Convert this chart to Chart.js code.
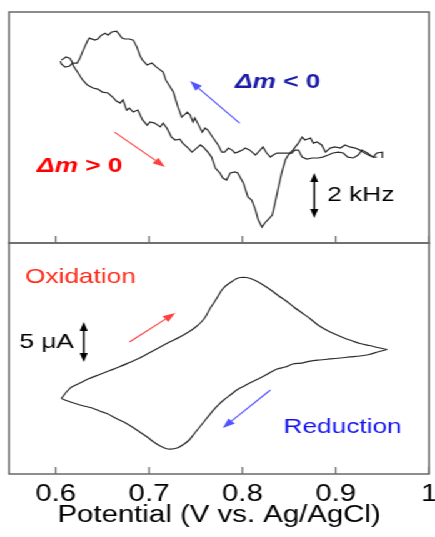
<!DOCTYPE html>
<html>
<head>
<meta charset="utf-8">
<script src="https://cdn.jsdelivr.net/npm/chart.js@4/dist/chart.umd.min.js"></script>
<style>
  html, body { margin: 0; padding: 0; background: #fff; overflow: hidden; }
  #page { position: relative; width: 435px; height: 537px; overflow: hidden; }
  /* the figure is drawn narrow and widened as a whole */
  #wide { position: absolute; left: 0; top: 0; width: 360px; height: 537px;
          transform: scaleX(1.25); transform-origin: 0 0; }
  #eqcm { position: absolute; left: 0; top: 0; width: 360px; height: 244px; }
  #cv { position: absolute; left: 0; top: 242px; width: 360px; height: 295px; }
</style>
</head>
<body>
<div id="page">
  <div id="wide">
    <canvas id="eqcm" width="360" height="244"></canvas>
    <canvas id="cv" width="360" height="295"></canvas>
  </div>
</div>
<script>
// potential axis (V vs. Ag/AgCl)
const potentialTicks = [0.6, 0.7, 0.8, 0.9, 1.0];
const potentialTickLabels = ['0.6', '0.7', '0.8', '0.9', '1'];

// quartz crystal frequency (kHz, offset) - anodic sweep
const eqcmAnodicV = [
  0.606,0.611,0.615,0.617,0.619,0.624,0.629,0.634,0.640,0.645,
  0.650,0.656,0.661,0.665,0.669,0.672,0.676,0.679,0.683,0.688,
  0.693,0.698,0.701,0.706,0.712,0.715,0.719,0.724,0.728,0.733,
  0.736,0.742,0.746,0.751,0.755,0.758,0.763,0.767,0.771,0.776,
  0.779,0.783,0.787,0.792,0.795,0.801,0.806,0.810,0.814,0.817,
  0.821,0.824,0.827,0.832,0.835,0.838,0.842,0.846,0.849,0.854,
  0.860,0.864,0.867,0.873,0.876,0.880,0.885,0.889,0.894,0.899,
  0.905,0.910,0.915,0.921,0.926,0.929,0.935,0.940,0.944,0.950,
  0.950];
const eqcmAnodicF = [
  8.13,8.27,8.22,8.09,7.87,7.56,7.24,7.02,6.89,6.84,
  6.71,6.67,6.49,6.31,6.22,6.36,5.91,6.00,5.82,5.91,
  5.47,5.24,5.38,5.33,5.16,5.33,5.11,4.71,4.58,4.62,
  4.44,4.22,4.04,4.22,4.36,4.27,4.04,3.82,3.33,3.11,
  2.89,2.80,3.11,3.16,3.11,2.67,2.04,1.91,1.47,1.02,
  0.71,0.89,1.02,1.24,1.78,2.36,3.11,3.69,3.91,4.13,
  4.44,4.71,4.58,4.67,4.44,4.49,4.36,4.04,4.22,4.27,
  4.22,4.36,4.27,4.22,4.13,4.04,3.91,3.82,4.00,4.04,
  3.78];

// quartz crystal frequency - cathodic sweep back
const eqcmCathodicV = [
  0.944,0.940,0.934,0.928,0.924,0.919,0.913,0.908,0.903,0.897,
  0.892,0.886,0.881,0.875,0.869,0.864,0.860,0.856,0.853,0.848,
  0.842,0.837,0.833,0.830,0.826,0.822,0.819,0.814,0.808,0.803,
  0.800,0.795,0.792,0.789,0.785,0.781,0.778,0.774,0.768,0.763,
  0.760,0.757,0.752,0.749,0.747,0.744,0.741,0.735,0.731,0.726,
  0.722,0.718,0.715,0.708,0.703,0.698,0.693,0.690,0.687,0.683,
  0.679,0.674,0.671,0.667,0.665,0.660,0.656,0.653,0.649,0.645,
  0.642,0.636,0.634,0.629,0.626,0.623,0.618,0.615,0.610,0.606,
  0.605];
const eqcmCathodicF = [
  3.82,3.82,4.00,4.13,3.91,3.78,3.82,4.00,4.04,4.00,
  3.91,3.82,3.78,3.78,3.73,3.82,4.13,4.13,4.00,4.00,
  4.00,4.00,3.91,3.82,4.00,4.27,4.13,3.91,4.13,4.22,
  4.13,4.04,4.00,4.13,4.22,4.04,4.04,4.36,4.71,5.02,
  5.11,4.93,5.33,5.56,5.38,5.69,5.82,5.60,6.04,6.71,
  6.98,7.24,7.60,7.82,8.00,7.91,8.13,8.36,8.71,9.02,
  9.07,9.07,9.11,9.33,9.42,9.38,9.24,9.33,9.24,9.07,
  9.02,9.11,8.98,8.53,8.22,8.00,8.00,7.87,7.82,7.96,
  8.09];

// cyclic voltammogram current (uA) - oxidation sweep
const cvAnodicV = [
  0.606,0.612,0.617,0.626,0.636,0.647,0.658,0.669,0.679,0.690,
  0.701,0.712,0.722,0.733,0.744,0.750,0.756,0.761,0.765,0.770,
  0.774,0.778,0.782,0.788,0.793,0.798,0.804,0.810,0.817,0.824,
  0.832,0.839,0.847,0.855,0.864,0.873,0.881,0.890,0.899,0.909,
  0.918,0.926,0.936,0.945,0.955];
const cvAnodicI = [
  -4.81,-3.94,-3.38,-2.88,-2.31,-1.81,-1.31,-0.81,-0.31,0.25,
  0.94,1.63,2.25,2.88,3.63,4.13,4.75,5.50,6.38,7.25,
  8.00,8.75,9.25,9.75,10.13,10.31,10.31,10.13,9.75,9.25,
  8.63,8.00,7.38,6.63,5.88,5.13,4.38,3.75,3.25,2.75,
  2.38,2.06,1.81,1.56,1.31];

// cyclic voltammogram current - reduction sweep
const cvCathodicV = [
  0.955,0.945,0.936,0.926,0.915,0.905,0.894,0.883,0.873,0.863,
  0.854,0.846,0.837,0.827,0.819,0.810,0.802,0.794,0.787,0.780,
  0.774,0.768,0.762,0.756,0.749,0.743,0.736,0.730,0.723,0.718,
  0.712,0.705,0.698,0.690,0.682,0.673,0.664,0.656,0.647,0.639,
  0.630,0.621,0.613,0.606];
const cvCathodicI = [
  1.31,1.00,0.69,0.50,0.38,0.25,0.13,0.00,-0.13,-0.38,
  -0.50,-0.88,-1.13,-1.75,-2.25,-2.75,-3.25,-3.75,-4.38,-5.00,
  -5.63,-6.38,-7.25,-8.13,-9.13,-10.00,-10.63,-11.00,-11.13,-11.06,
  -10.75,-10.25,-9.63,-9.00,-8.38,-7.75,-7.25,-6.75,-6.38,-6.00,
  -5.75,-5.44,-5.13,-4.81];

const FONT = "'Liberation Sans', Arial, sans-serif";
const pts = (xs, ys) => xs.map((v, i) => ({ x: v, y: ys[i] }));

// box around the plot area plus inward tick marks on the bottom edge
const framePlugin = {
  id: 'frame',
  afterDraw(chart) {
    const { ctx, chartArea: a } = chart;
    const x = chart.scales.x;
    ctx.save();
    ctx.strokeStyle = '#686868';
    ctx.lineWidth = 1.5;
    ctx.strokeRect(a.left, a.top, a.right - a.left, a.bottom - a.top);
    ctx.lineWidth = 1.2;
    potentialTicks.forEach(v => {
      const px = x.getPixelForValue(v);
      ctx.beginPath();
      ctx.moveTo(px, a.bottom);
      ctx.lineTo(px, a.bottom - 7);
      ctx.stroke();
    });
    ctx.restore();
  }
};

function drawArrow(ctx, x0, y0, x1, y1, color) {
  const ang = Math.atan2(y1 - y0, x1 - x0);
  const head = 10, half = 3.6;
  const bx = x1 - head * Math.cos(ang), by = y1 - head * Math.sin(ang);
  ctx.strokeStyle = color;
  ctx.fillStyle = color;
  ctx.lineWidth = 1.1;
  ctx.beginPath(); ctx.moveTo(x0, y0); ctx.lineTo(bx, by); ctx.stroke();
  ctx.beginPath();
  ctx.moveTo(x1, y1);
  ctx.lineTo(bx + half * Math.sin(ang), by - half * Math.cos(ang));
  ctx.lineTo(bx - half * Math.sin(ang), by + half * Math.cos(ang));
  ctx.closePath();
  ctx.fill();
}

function drawScaleBar(ctx, x, yTop, yBot) {
  const head = 9, half = 3.2;
  ctx.strokeStyle = '#000';
  ctx.fillStyle = '#000';
  ctx.lineWidth = 1.4;
  ctx.beginPath(); ctx.moveTo(x, yTop + head - 1); ctx.lineTo(x, yBot - head + 1); ctx.stroke();
  ctx.beginPath(); ctx.moveTo(x, yTop); ctx.lineTo(x - half, yTop + head); ctx.lineTo(x + half, yTop + head); ctx.closePath(); ctx.fill();
  ctx.beginPath(); ctx.moveTo(x, yBot); ctx.lineTo(x - half, yBot - head); ctx.lineTo(x + half, yBot - head); ctx.closePath(); ctx.fill();
}

function drawLabel(ctx, x, y, parts, color) {
  ctx.fillStyle = color;
  ctx.textAlign = 'left';
  ctx.textBaseline = 'middle';
  let cx = x;
  parts.forEach(([txt, font]) => {
    ctx.font = font;
    ctx.fillText(txt, cx, y);
    cx += ctx.measureText(txt).width;
  });
}

// annotations placed in data units of each panel
function notesPlugin(notes) {
  return {
    id: 'notes',
    afterDraw(chart) {
      const { ctx } = chart;
      const X = v => chart.scales.x.getPixelForValue(v);
      const Y = v => chart.scales.y.getPixelForValue(v);
      ctx.save();
      notes.forEach(n => {
        if (n.type === 'arrow') drawArrow(ctx, X(n.from[0]), Y(n.from[1]), X(n.to[0]), Y(n.to[1]), n.color);
        else if (n.type === 'bar') drawScaleBar(ctx, X(n.x), Y(n.top), Y(n.bottom));
        else drawLabel(ctx, X(n.x), Y(n.y), n.parts, n.color);
      });
      ctx.restore();
    }
  };
}

const BOLD = `bold 21px ${FONT}`;
const BOLD_IT = `italic bold 21px ${FONT}`;
const PLAIN = `21px ${FONT}`;

const eqcmNotes = [
  { type: 'arrow', from: [0.663, 4.93], to: [0.717, 3.38], color: '#ff4040' },
  { type: 'text', x: 0.580, y: 3.40, color: '#ff0000', parts: [['\u0394m', BOLD_IT], [' > 0', BOLD]] },
  { type: 'arrow', from: [0.797, 5.33], to: [0.744, 7.20], color: '#5252ff' },
  { type: 'text', x: 0.792, y: 7.16, color: '#1c1ca8', parts: [['\u0394m', BOLD_IT], [' < 0', BOLD]] },
  { type: 'bar', x: 0.877, top: 3.11, bottom: 1.11 },
  { type: 'text', x: 0.891, y: 2.13, color: '#000', parts: [['2 kHz', PLAIN]] }
];

const cvNotes = [
  { type: 'text', x: 0.567, y: 10.38, color: '#ff2a1a', parts: [['Oxidation', PLAIN]] },
  { type: 'arrow', from: [0.679, 2.25], to: [0.728, 5.88], color: '#ff4040' },
  { type: 'text', x: 0.561, y: 2.25, color: '#000', parts: [['5 \u03bcA', PLAIN]] },
  { type: 'bar', x: 0.630, top: 4.75, bottom: -0.25 },
  { type: 'arrow', from: [0.830, -3.75], to: [0.779, -8.5], color: '#5252ff' },
  { type: 'text', x: 0.844, y: -8.38, color: '#1414f0', parts: [['Reduction', PLAIN]] }
];

const common = {
  animation: false,
  responsive: false,
  events: [],
  plugins: { legend: { display: false }, tooltip: { enabled: false } },
  elements: { point: { radius: 0 } }
};

const traceStyle = { showLine: true, borderColor: '#2b2b2b', borderWidth: 1.2, pointRadius: 0, fill: false };

const eqcmChart = new Chart(document.getElementById('eqcm'), {
  type: 'scatter',
  data: {
    datasets: [
      { ...traceStyle, data: pts(eqcmAnodicV, eqcmAnodicF) },
      { ...traceStyle, data: pts(eqcmCathodicV, eqcmCathodicF) }
    ]
  },
  options: {
    ...common,
    layout: { padding: { top: 12, left: 7.2, right: 16.8, bottom: 1 } },
    scales: {
      x: { type: 'linear', min: 0.55, max: 1.0, display: false },
      y: { type: 'linear', min: 0, max: 10.27, display: false }
    }
  },
  plugins: [framePlugin, notesPlugin(eqcmNotes)]
});

const cvChart = new Chart(document.getElementById('cv'), {
  type: 'scatter',
  data: {
    datasets: [
      { ...traceStyle, tension: 0.25, data: pts(cvAnodicV, cvAnodicI) },
      { ...traceStyle, tension: 0.25, data: pts(cvCathodicV, cvCathodicI) }
    ]
  },
  options: {
    ...common,
    layout: { padding: { top: 1, left: 7.2, right: 16.8, bottom: 1 } },
    scales: {
      x: {
        type: 'linear', min: 0.55, max: 1.0,
        afterBuildTicks: s => { s.ticks = potentialTicks.map(v => ({ value: v })); },
        afterFit: s => { s.height = 62; },
        grid: { display: false, drawTicks: false },
        border: { display: false },
        ticks: {
          autoSkip: false, maxRotation: 0, padding: 6, color: '#000',
          font: { family: FONT, size: 23.5 },
          callback: (v, i) => potentialTickLabels[i]
        },
        title: {
          display: true, text: 'Potential (V vs. Ag/AgCl)', color: '#000',
          font: { family: FONT, size: 23.5 }, padding: { top: 0, bottom: 6 }
        }
      },
      y: { type: 'linear', min: -14.25, max: 14.625, display: false }
    }
  },
  plugins: [framePlugin, notesPlugin(cvNotes)]
});
</script>
</body>
</html>
